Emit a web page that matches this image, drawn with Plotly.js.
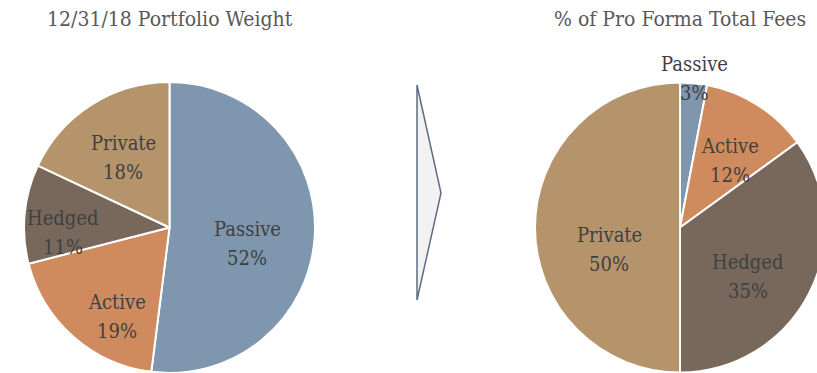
<!DOCTYPE html>
<html>
<head>
<meta charset="utf-8">
<script src="https://cdn.plot.ly/plotly-3.0.1.min.js"></script>
<style>
  html, body { margin: 0; padding: 0; overflow: hidden; background: #ffffff; }
  #chart { width: 840px; height: 373px; }
</style>
</head>
<body>
<div id="chart"></div>
<script>
// Asset classes and their shares
const categories = ['Passive', 'Active', 'Hedged', 'Private'];
const weightValues = [52, 19, 11, 18];   // 12/31/18 portfolio weight (%)
const feeValues = [3, 12, 35, 50];       // % of pro forma total fees
const chartTitles = ['12/31/18 Portfolio Weight', '% of Pro Forma Total Fees'];

// Styling
const sliceColors = ['#7f97ae', '#cf8b5d', '#78685c', '#b5946c'];
const FONT = '"DejaVu Serif Condensed", "DejaVu Serif", serif';
const W = 840, H = 373;

// Pie geometry (pixels) and label placement (radius fraction, angle nudge in degrees)
const pieLayouts = [
  { cx: 169.5, cy: 227.5, r: 145.5, labelR: [0.544, 0.71, 0.73, 0.58], nudge: [8, -11, -8, -1] },
  { cx: 680, cy: 227.5, r: 145, labelR: [1.035, 0.577, 0.58, 0.51], nudge: [0, 4, 9, -17] }
];
const seriesValues = [weightValues, feeValues];

const clamp = v => Math.max(0, Math.min(1, v));
const traces = [];
const annotations = [];

seriesValues.forEach((vals, k) => {
  const g = pieLayouts[k];
  traces.push({
    type: 'pie',
    labels: categories,
    values: vals,
    sort: false,
    direction: 'clockwise',
    rotation: 0,
    textinfo: 'none',
    hoverinfo: 'skip',
    showlegend: false,
    marker: { colors: sliceColors, line: { color: '#ffffff', width: 2 } },
    domain: {
      x: [clamp((g.cx - g.r) / W), clamp((g.cx + g.r) / W)],
      y: [clamp((H - g.cy - g.r) / H), clamp((H - g.cy + g.r) / H)]
    }
  });

  // Slice labels: name over percentage, placed along each slice's mid-angle
  const total = vals.reduce((a, b) => a + b, 0);
  let cum = 0;
  vals.forEach((v, i) => {
    const mid = (cum + v / 2) / total * 360 + g.nudge[i];
    cum += v;
    const a = mid * Math.PI / 180;
    const px = g.cx + g.r * g.labelR[i] * Math.sin(a);
    const py = g.cy - g.r * g.labelR[i] * Math.cos(a);
    const base = {
      xref: 'paper', yref: 'paper', x: px / W, y: 1 - py / H,
      xanchor: 'center', yanchor: 'middle', showarrow: false,
      font: { family: FONT, size: 20, color: '#404040' }
    };
    annotations.push(Object.assign({}, base, { text: categories[i], yshift: 14.5 }));
    annotations.push(Object.assign({}, base, { text: Math.round(v / total * 100) + '%', yshift: -14.5 }));
  });

  // Chart heading
  annotations.push({
    xref: 'paper', yref: 'paper', x: g.cx / W, y: 1 - 19 / H,
    xanchor: 'center', yanchor: 'middle', showarrow: false,
    text: chartTitles[k],
    font: { family: FONT, size: 21, color: '#595959' }
  });
});

// Chevron between the two pies
const chevron = [[417, 85], [441, 193], [417, 300]];
const chevronPath = chevron.map((p, i) => (i ? 'L' : 'M') + (p[0] / W).toFixed(5) + ',' + (1 - p[1] / H).toFixed(5)).join(' ') + ' Z';

const layout = {
  width: W, height: H,
  margin: { l: 0, r: 0, t: 0, b: 0 },
  paper_bgcolor: '#ffffff',
  showlegend: false,
  annotations: annotations,
  shapes: [{
    type: 'path', xref: 'paper', yref: 'paper', path: chevronPath,
    fillcolor: '#f2f2f2', line: { color: '#5d6e80', width: 1.5 }
  }]
};

Plotly.newPlot('chart', traces, layout, { staticPlot: true, displayModeBar: false });
</script>
</body>
</html>
